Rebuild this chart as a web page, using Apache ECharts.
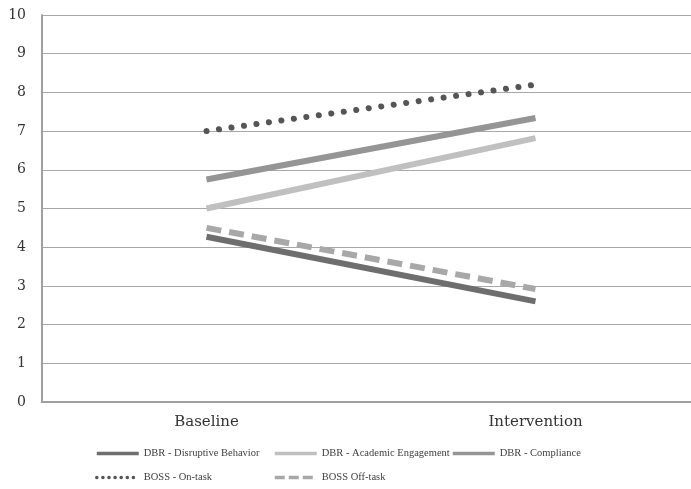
<!DOCTYPE html>
<html><head><meta charset="utf-8">
<script src="https://cdn.jsdelivr.net/npm/echarts@6/dist/echarts.min.js"></script>
<style>html,body{margin:0;padding:0;background:#fff}#c{width:691px;height:489px}</style>
</head><body><div id="c"></div>
<script>
const categories = ['Baseline', 'Intervention'];
const disruptive = [4.27, 2.6];
const academic = [5.0, 6.82];
const compliance = [5.75, 7.34];
const onTask = [7.0, 8.2];
const offTask = [4.5, 2.92];
const yTicks = [0, 1, 2, 3, 4, 5, 6, 7, 8, 9, 10];

const names = ['DBR - Disruptive Behavior', 'DBR - Academic Engagement', 'DBR - Compliance', 'BOSS - On-task', 'BOSS Off-task'];
const colors = ['#6e6e6e', '#c0c0c0', '#959595', '#555555', '#a8a8a8'];
const types = ['solid', 'solid', 'solid', [0.1, 12.5], [15, 8]];
const legendTypes = ['solid', 'solid', 'solid', [0.1, 6], [10, 4]];
const datas = [disruptive, academic, compliance, onTask, offTask];
const legendPos = [[95, 448], [273, 448], [451, 448], [95, 472], [273, 472]];

const chart = echarts.init(document.getElementById('c'));
chart.setOption({
  animation: false,
  grid: { left: 42, width: 658, top: 15, height: 387, outerBoundsMode: 'none', containLabel: false },
  xAxis: {
    type: 'category', data: categories, boundaryGap: true,
    axisLine: { lineStyle: { color: '#a0a0a0', width: 2 } },
    axisTick: { show: false },
    axisLabel: { fontFamily: 'DejaVu Serif', fontSize: 15, color: '#333', margin: 13 }
  },
  yAxis: {
    type: 'value', min: yTicks[0], max: yTicks[yTicks.length - 1], interval: 1,
    axisLine: { show: true, lineStyle: { color: '#a0a0a0', width: 2 } },
    axisTick: { show: false },
    splitLine: { lineStyle: { color: '#a8a8a8', width: 1 } },
    axisLabel: { fontFamily: 'DejaVu Serif', fontSize: 14, color: '#333', margin: 16 }
  },
  legend: legendPos.map((p, i) => ({
    data: [names[i]], left: p[0], top: p[1], padding: 0, itemWidth: 42, itemHeight: 8, itemGap: 5,
    itemStyle: { opacity: 0 },
    lineStyle: { width: 3.5, type: legendTypes[i], cap: i === 3 ? 'round' : 'butt' },
    textStyle: { fontFamily: 'Liberation Serif', fontSize: 10.5, color: '#404040', padding: [0, 0, 0, 0] }
  })),
  series: names.map((n, i) => ({
    name: n, type: 'line', data: datas[i], showSymbol: false, symbol: 'none',
    color: colors[i],
    lineStyle: { color: colors[i], width: 6, type: types[i], cap: i === 3 ? 'round' : 'butt' }
  }))
});
</script></body></html>
